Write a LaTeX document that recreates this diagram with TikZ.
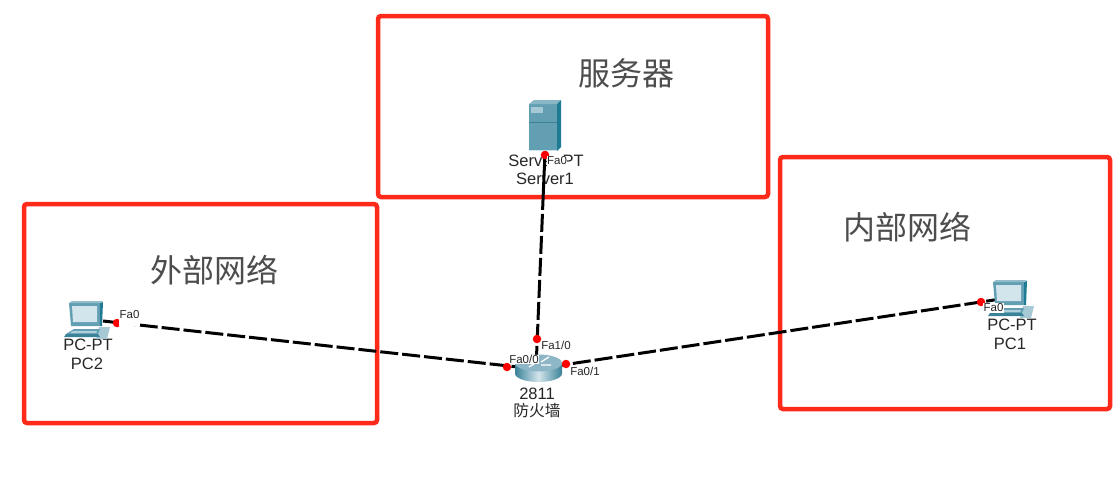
\documentclass[tikz,border=0pt]{standalone}
\usepackage{fontspec}
\setmainfont{Liberation Sans}
\newfontfamily\cjk{Noto Sans CJK SC}
\usetikzlibrary{calc}
\definecolor{boxred}{HTML}{FF2A1A}
\definecolor{bigtext}{HTML}{4D4D4D}
\definecolor{tealdark}{HTML}{3A8299}
\definecolor{tealmid}{HTML}{639FB3}
\definecolor{teallight}{HTML}{D3E5EC}
\definecolor{tealdeep}{HTML}{1F7A93}
\definecolor{fwtop}{HTML}{8DB6C6}
\tikzset{
  zonebox/.style={draw=boxred,line width=4.5pt,rounded corners=3pt},
  bigcap/.style={text=bigtext,font=\fontsize{32}{36}\selectfont\cjk,inner sep=0pt},
  devlabel/.style={font=\fontsize{16.5}{18}\selectfont,inner sep=0pt,text=black!85},
  cjklabel/.style={font=\fontsize{15.7}{17}\selectfont\cjk,inner sep=0pt,text=black!85},
  portlabel/.style={font=\fontsize{11.5}{13}\selectfont,fill=white,inner sep=0.5pt,text=black!85},
  link/.style={draw=black,line width=3pt,dash pattern=on 18pt off 4pt},
  serverlink/.style={draw=black,line width=3pt,dash pattern=on 82pt off 4pt on 18pt off 4pt on 18pt off 4pt on 18pt off 4pt on 18pt off 4pt on 18pt off 4pt on 18pt off 4pt on 60pt off 4pt},
  portdot/.style={circle,fill=red,inner sep=0pt,minimum size=8.5pt},
  devpoint/.style={coordinate}
}
\newcommand{\pcicon}[2]{%
\begin{scope}[shift={(#1,#2)}]
  % tower and keyboard
  \fill[teallight!60!tealmid] (30,24) -- (41,24) -- (38,36) -- (27,36) -- cycle;
  \fill[tealmid] (5,26) -- (31,26) -- (29,31) -- (-3,31) -- cycle;
  \fill[teallight!70!tealmid] (4,28) -- (28,28) -- (27,30) -- (1,30) -- cycle;
  \fill[tealdark] (-3,31) -- (29,31) -- (31,34) -- (-5,34) -- cycle;
  % monitor
  \fill[tealmid] (0,0) -- (31,0) -- (31,23) -- (2,23) -- cycle;
  \fill[tealdeep] (31,0) -- (34,-1) -- (33,23) -- (31,23) -- cycle;
  \fill[tealmid!70!white] (0,0) -- (3,-2) -- (34,-2) -- (31,0) -- cycle;
  \fill[teallight] (3,3) -- (28,3) -- (28,19) -- (4,19) -- cycle;
\end{scope}}
\begin{document}
\begin{tikzpicture}[x=1pt,y=-1pt]
\useasboundingbox (0,0) rectangle (1117,483);
\fill[white] (0,0) rectangle (1117,483);
% device reference points
\node[devpoint] (server) at (546,128) {};
\node[devpoint] (fw) at (536,369) {};
\node[devpoint] (pc2) at (103,321) {};
\node[devpoint] (pc1) at (1004,298.5) {};
% zones
\draw[zonebox] (378,16) rectangle (768,197);
\draw[zonebox] (24,204) rectangle (377,423);
\draw[zonebox] (780,157) rectangle (1110,409);
\node[bigcap] (capserver) at (626,73) {服务器};
\node[bigcap] (capin) at (907,227) {内部网络};
\node[bigcap] (capout) at (214,270) {外部网络};
% device labels
\node[devlabel] (srvtype) at (546,161) {Server-PT};
\node[devlabel] (srvname) at (545,179) {Server1};
\node[devlabel] (pc2type) at (88,345) {PC-PT};
\node[devlabel] (pc2name) at (87,364) {PC2};
\node[devlabel] (pc1type) at (1012,325) {PC-PT};
\node[devlabel] (pc1name) at (1010,344) {PC1};
\node[devlabel] (fwtype) at (537,394) {2811};
\node[cjklabel] (fwname) at (537,411) {防火墙};
% links
\draw[serverlink] (server) -- (fw);
\draw[link,dash phase=7pt] (pc2) -- (fw);
\draw[link] (pc1) -- (fw);
% server icon
\fill[tealmid] (529,104) rectangle (557,151);
\fill[tealmid!75!white] (529,104) -- (534,100) -- (561,100) -- (557,104) -- cycle;
\fill[tealdeep] (557,104) -- (561,100) -- (561,147) -- (557,151) -- cycle;
\fill[teallight!60!tealmid] (531,107) rectangle (543,113);
\draw[tealdark,line width=.6pt] (529,122) -- (557,122);
\draw[teallight,line width=1pt] (529,150.5) -- (557,150.5);
% PC icons
\pcicon{69}{303}
\pcicon{993}{282}
% router icon
\shade[left color=tealdark,right color=tealdark,middle color=teallight] (515,363) -- (515,373.5) arc[start angle=180,end angle=360,x radius=23.5pt,y radius=8.5pt] -- (562,363) -- cycle;
\fill[fwtop] (538.5,363) ellipse[x radius=23.5pt,y radius=8.5pt];
\draw[white,line width=1.3pt] (529,367) -- (537,362) (541,365) -- (551,365) (528,360) -- (537,360) (541,362) -- (549,357);
% ports
\node[portdot] (pserver) at (545,155) {};
\node[portdot] (pfwtop) at (537,339) {};
\node[portdot] (pfwleft) at (507,367) {};
\node[portdot] (pfwright) at (566,364) {};
\node[portdot] (ppc2) at (117,323) {};
\node[portdot] (ppc1) at (981,302) {};
\node[portlabel,minimum width=19pt] (lsrv) at (557,161) {Fa0};
\node[portlabel] (lfw10) at (556,345) {Fa1/0};
\node[portlabel] (lfw00) at (524,359.5) {Fa0/0};
\node[portlabel] (lfw01) at (585,371) {Fa0/1};
\node[portlabel,minimum height=17pt,anchor=north,text depth=7pt] (lpc2) at (129.5,309) {Fa0};
\node[portlabel] (lpc1) at (993.5,308) {Fa0};
\end{tikzpicture}
\end{document}
